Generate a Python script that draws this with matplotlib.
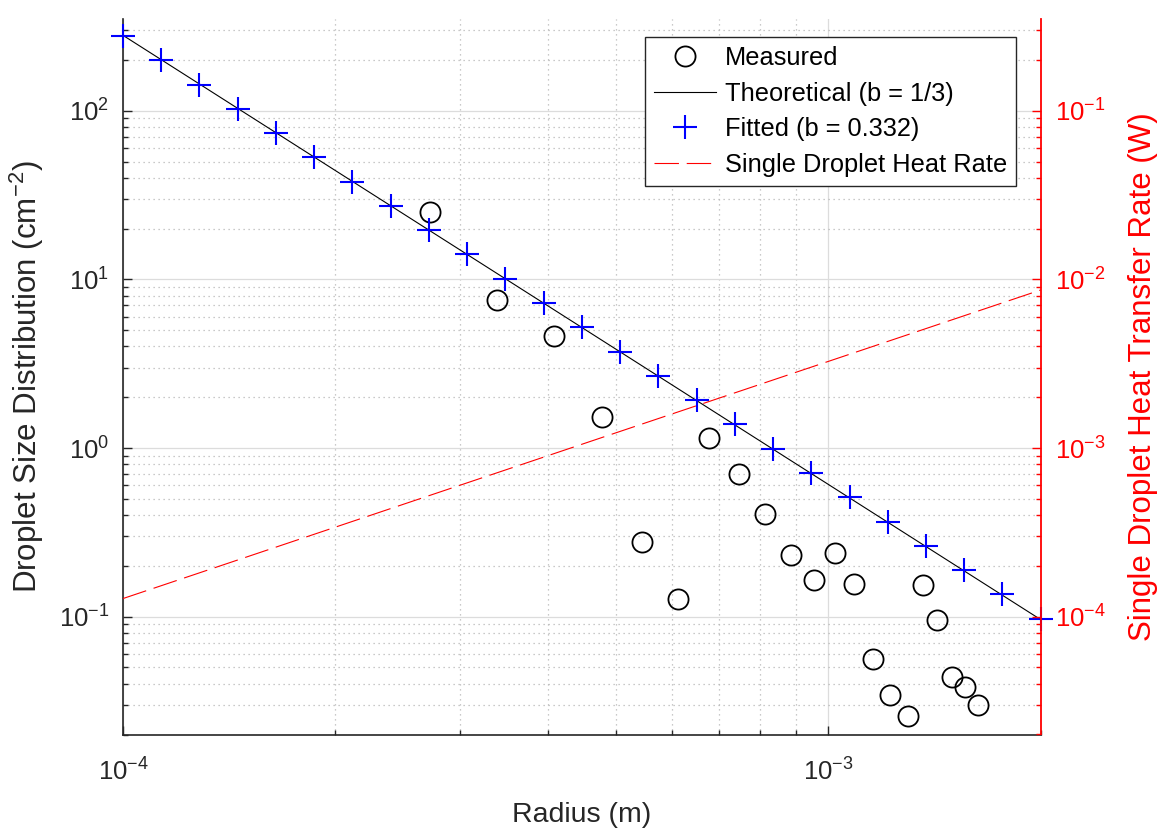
import numpy as np
import matplotlib
matplotlib.use('Agg')
import matplotlib.pyplot as plt
from matplotlib.ticker import LogLocator, NullFormatter

plt.rcParams['font.family'] = ['Liberation Sans', 'DejaVu Sans']
plt.rcParams['mathtext.fontset'] = 'custom'
plt.rcParams['mathtext.rm'] = 'Liberation Sans'
plt.rcParams['mathtext.it'] = 'Liberation Sans:italic'
plt.rcParams['mathtext.bf'] = 'Liberation Sans:bold'

# --- data ---
# measured droplet size distribution (cm^-2)
meas_r = [2.72e-4, 3.39e-4, 4.09e-4, 4.77e-4, 5.44e-4, 6.13e-4, 6.78e-4,
          7.48e-4, 8.12e-4, 8.84e-4, 9.55e-4, 1.023e-3, 1.088e-3, 1.158e-3,
          1.224e-3, 1.295e-3, 1.360e-3, 1.426e-3, 1.497e-3, 1.562e-3, 1.630e-3]
meas_n = [25.1, 7.55, 4.62, 1.53, 0.277, 0.127, 1.15,
          0.702, 0.405, 0.233, 0.165, 0.240, 0.156, 0.0562,
          0.0344, 0.0258, 0.155, 0.0953, 0.0436, 0.0385, 0.0299]

# theoretical line (b = 1/3), end points
theo_r = [1.0e-4, 2.0e-3]
theo_n = [280.0, 0.096]

# fitted (b = 0.332)
fit_r = [1.0000e-4, 1.1330e-4, 1.2836e-4, 1.4542e-4, 1.6476e-4, 1.8666e-4,
         2.1148e-4, 2.3960e-4, 2.7145e-4, 3.0754e-4, 3.4843e-4, 3.9475e-4,
         4.4723e-4, 5.0669e-4, 5.7405e-4, 6.5037e-4, 7.3683e-4, 8.3479e-4,
         9.4577e-4, 1.0715e-3, 1.2140e-3, 1.3754e-3, 1.5582e-3, 1.7654e-3,
         2.0000e-3]
fit_n = [278, 200, 143, 103, 73.8, 53.0, 38.0, 27.3, 19.6, 14.1, 10.1, 7.24,
         5.20, 3.73, 2.68, 1.92, 1.38, 0.99, 0.711, 0.510, 0.366, 0.263,
         0.189, 0.136, 0.097]

# single droplet heat transfer rate (W), end points
heat_r = [1.0e-4, 2.0e-3]
heat_q = [1.28e-4, 8.65e-3]

W, H = 1163, 833
fig = plt.figure(figsize=(W / 100, H / 100), dpi=100)
ax = fig.add_axes([123 / W, 1 - 734.5 / H, (1040.7 - 123) / W, (734.5 - 19) / H])
ax2 = ax.twinx()

axcol = '#262626'

# left axis
h_meas, = ax.plot(meas_r, meas_n, 'o', ms=14.5, mfc='none', mec='black', mew=1.3,
                  label='Measured', zorder=3)
h_theo, = ax.plot(theo_r, theo_n, '-', color='black', lw=0.8,
                  label='Theoretical (b = 1/3)', zorder=3)
h_fit, = ax.plot(fit_r, fit_n, '+', ms=17, mec='blue', mew=1.5,
                 label='Fitted (b = 0.332)', zorder=4, clip_on=False)

# right axis
h_heat, = ax2.plot(heat_r, heat_q, color='red', lw=0.8, dashes=(22, 7),
                   label='Single Droplet Heat Rate')

for a in (ax, ax2):
    a.set_xscale('log')
    a.set_yscale('log')
    a.set_xlim(1e-4, 2e-3)

ax.set_ylim(0.02, 350)
ax2.set_ylim(2e-5, 0.35)

ax.set_axisbelow(True)
ax.grid(True, which='major', color='#dcdcdc', lw=0.9, ls='-')
ax.grid(True, which='minor', color='#b8b8b8', lw=0.9, ls=(0, (1, 3)))

for a in (ax, ax2):
    a.xaxis.set_minor_locator(LogLocator(base=10, subs=np.arange(2, 10)))
    a.xaxis.set_minor_formatter(NullFormatter())
    a.yaxis.set_minor_locator(LogLocator(base=10, subs=np.arange(2, 10), numticks=20))
    a.yaxis.set_minor_formatter(NullFormatter())
    a.spines['top'].set_visible(False)

ax.spines['left'].set_color(axcol)
ax.spines['bottom'].set_color(axcol)
ax.spines['left'].set_linewidth(1.2)
ax.spines['bottom'].set_linewidth(1.2)
ax.spines['right'].set_visible(False)
ax2.spines['left'].set_visible(False)
ax2.spines['bottom'].set_visible(False)
ax2.spines['right'].set_color('red')
ax2.spines['right'].set_linewidth(1.3)

ax.tick_params(axis='both', which='both', direction='in', colors=axcol,
               labelsize=18.5, top=False, right=False)
ax.tick_params(which='major', length=6.5, width=1.0)
ax.tick_params(which='minor', length=3.6, width=1.0)
ax.tick_params(axis='x', which='major', pad=17)
ax.tick_params(axis='y', which='major', pad=10)

ax2.tick_params(axis='y', which='both', direction='in', colors='red',
                labelsize=18.5, left=False, right=True)
ax2.tick_params(axis='y', which='major', length=6.5, width=1.0, pad=10)
ax2.tick_params(axis='y', which='minor', length=3.6, width=1.0)
ax2.tick_params(axis='x', which='both', bottom=False, top=False,
                labelbottom=False)

ax.set_xlabel('Radius (m)', fontsize=20.5, color=axcol, labelpad=12)
ax.set_ylabel('Droplet Size Distribution (cm$^{-2}$)', fontsize=22.5,
              color=axcol)
ax.yaxis.set_label_coords(-0.0839, 0.5)
ax2.set_ylabel('Single Droplet Heat Transfer Rate (W)', fontsize=22.5,
               color='red')
ax2.yaxis.set_label_coords(1.0951, 0.5)

leg = ax2.legend([h_meas, h_theo, h_fit, h_heat],
                 [h.get_label() for h in (h_meas, h_theo, h_fit, h_heat)],
                 loc='upper right', bbox_to_anchor=(1016 / W, 1 - 37 / H),
                 bbox_transform=fig.transFigure, borderaxespad=0,
                 fontsize=18.3, fancybox=False, framealpha=1,
                 edgecolor='#262626', handlelength=2.45, handletextpad=0.35,
                 labelspacing=0.46, borderpad=0.35)
leg.get_frame().set_linewidth(1.0)

fig.savefig('out.png', dpi=100)
